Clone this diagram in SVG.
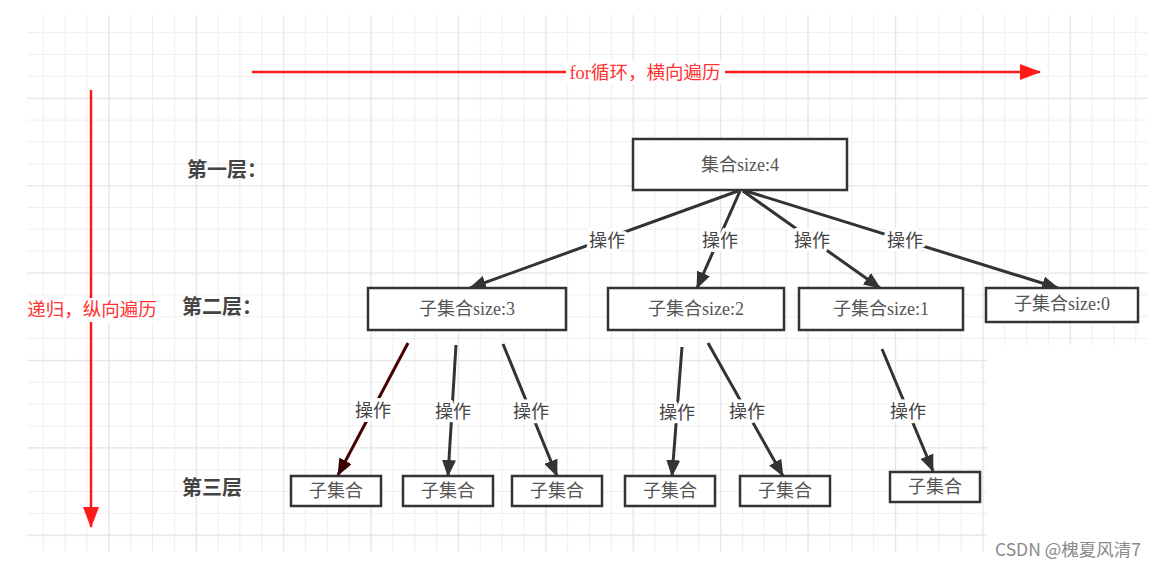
<svg xmlns="http://www.w3.org/2000/svg" width="1162" height="565" viewBox="0 0 1162 565">
<style>
.node rect{fill:#fff;stroke:#333;stroke-width:2.5}
.nt{font-family:"Liberation Serif","Noto Sans CJK SC",serif;font-size:18px;fill:#555;text-anchor:middle;dominant-baseline:central}
.lv{font-family:"Liberation Serif","Noto Sans CJK SC",serif;font-size:20px;fill:#444;font-weight:bold;dominant-baseline:central}
.ed{stroke:#333;stroke-width:3;fill:none;marker-end:url(#ah)}
.ed2{stroke:#4a0000;stroke-width:3;fill:none;marker-end:url(#ah2)}
.el{font-family:"Liberation Serif","Noto Sans CJK SC",serif;font-size:18px;fill:#444;text-anchor:middle;dominant-baseline:central;paint-order:stroke;stroke:#fff;stroke-width:7;stroke-linejoin:round}
.red{stroke:#ff1a1a;stroke-width:2.5;fill:none}
.rl{font-family:"Liberation Serif","Noto Sans CJK SC",serif;font-size:18.5px;fill:#ff3333;text-anchor:middle;dominant-baseline:central}
.bg{fill:#fff}
</style>
<defs>
<pattern id="gmin" patternUnits="userSpaceOnUse" x="20.9" y="10.3" width="21.85" height="21.85">
<path d="M0.5,0 V21.85 M0,0.5 H21.85" stroke="#efefef" stroke-width="1.2" fill="none"/>
</pattern>
<pattern id="gmaj" patternUnits="userSpaceOnUse" x="20.9" y="10.3" width="87.4" height="87.4">
<path d="M0.5,0 V87.4 M0,0.5 H87.4" stroke="#e6e6e6" stroke-width="1.4" fill="none"/>
</pattern>
<marker id="ah" markerUnits="userSpaceOnUse" markerWidth="18" markerHeight="14" refX="16" refY="7" orient="auto">
<path d="M0,0 L17,7 L0,14 z" fill="#333"/>
</marker>
<marker id="ah2" markerUnits="userSpaceOnUse" markerWidth="18" markerHeight="14" refX="16" refY="7" orient="auto">
<path d="M0,0 L17,7 L0,14 z" fill="#3a0000"/>
</marker>
<marker id="rah" markerUnits="userSpaceOnUse" markerWidth="22" markerHeight="16" refX="20" refY="8" orient="auto">
<path d="M0,0 L21,8 L0,16 z" fill="#ff1a1a"/>
</marker>
</defs>
<rect width="1162" height="565" fill="#fff"/>
<g id="grid">
<rect x="27" y="15" width="1121" height="330" fill="url(#gmin)"/>
<rect x="27" y="345" width="960" height="207" fill="url(#gmin)"/>
<rect x="27" y="15" width="1121" height="330" fill="url(#gmaj)"/>
<rect x="27" y="345" width="960" height="207" fill="url(#gmaj)"/>
</g>
<g id="axes">
<line class="red" x1="252" y1="72" x2="1040" y2="72" marker-end="url(#rah)"/>
<rect class="bg" x="566" y="61" width="159" height="23"/>
<text class="rl" x="645" y="73">for循环，横向遍历</text>
<line class="red" x1="91" y1="90" x2="91" y2="527" marker-end="url(#rah)"/>
<rect class="bg" x="26" y="298" width="133" height="24"/>
<text class="rl" x="92" y="310">递归，纵向遍历</text>
</g>
<g id="levels">
<text class="lv" x="187" y="170">第一层：</text>
<text class="lv" x="182" y="307">第二层：</text>
<text class="lv" x="182" y="488">第三层</text>
</g>
<g id="connectors">
<line class="ed" x1="738" y1="191" x2="470" y2="288"/>
<line class="ed" x1="740" y1="191" x2="697" y2="288"/>
<line class="ed" x1="743" y1="191" x2="880" y2="288"/>
<line class="ed" x1="746" y1="191" x2="1058" y2="288"/>
<text class="el" x="607" y="241">操作</text>
<text class="el" x="720" y="241">操作</text>
<text class="el" x="812" y="241">操作</text>
<text class="el" x="905" y="241">操作</text>
<line class="ed2" x1="408" y1="343" x2="338" y2="475"/>
<line class="ed" x1="456" y1="345" x2="448" y2="476"/>
<line class="ed" x1="503" y1="344" x2="557" y2="476"/>
<line class="ed" x1="682" y1="347" x2="672" y2="476"/>
<line class="ed" x1="708" y1="343" x2="783" y2="476"/>
<line class="ed" x1="882" y1="349" x2="933" y2="471"/>
<text class="el" x="373" y="411">操作</text>
<text class="el" x="453" y="412">操作</text>
<text class="el" x="531" y="412">操作</text>
<text class="el" x="677" y="413">操作</text>
<text class="el" x="747" y="412">操作</text>
<text class="el" x="908" y="412">操作</text>
</g>
<g id="n0" class="node"><rect x="633" y="139" width="214" height="51"/><text class="nt" x="740" y="165">集合size:4</text></g>
<g id="n1" class="node"><rect x="368" y="288" width="198" height="42"/><text class="nt" x="467" y="309">子集合size:3</text></g>
<g id="n2" class="node"><rect x="608" y="288" width="176" height="42"/><text class="nt" x="696" y="309">子集合size:2</text></g>
<g id="n3" class="node"><rect x="799" y="288" width="164" height="42"/><text class="nt" x="881" y="309">子集合size:1</text></g>
<g id="n4" class="node"><rect x="986" y="288" width="152" height="34"/><text class="nt" x="1062" y="304">子集合size:0</text></g>
<g id="l1" class="node"><rect x="291" y="476" width="90" height="30"/><text class="nt" x="336" y="491">子集合</text></g>
<g id="l2" class="node"><rect x="403" y="476" width="90" height="30"/><text class="nt" x="448" y="491">子集合</text></g>
<g id="l3" class="node"><rect x="512" y="476" width="90" height="30"/><text class="nt" x="557" y="491">子集合</text></g>
<g id="l4" class="node"><rect x="625" y="476" width="90" height="30"/><text class="nt" x="670" y="491">子集合</text></g>
<g id="l5" class="node"><rect x="740" y="476" width="90" height="30"/><text class="nt" x="785" y="491">子集合</text></g>
<g id="l6" class="node"><rect x="890" y="472" width="90" height="30"/><text class="nt" x="935" y="487">子集合</text></g>
<text x="1068" y="548" font-family="'Noto Sans CJK SC','Noto Sans',sans-serif" font-size="17.5" fill="#8a8a8a" text-anchor="middle" dominant-baseline="central">CSDN @槐夏风清7</text>
</svg>
